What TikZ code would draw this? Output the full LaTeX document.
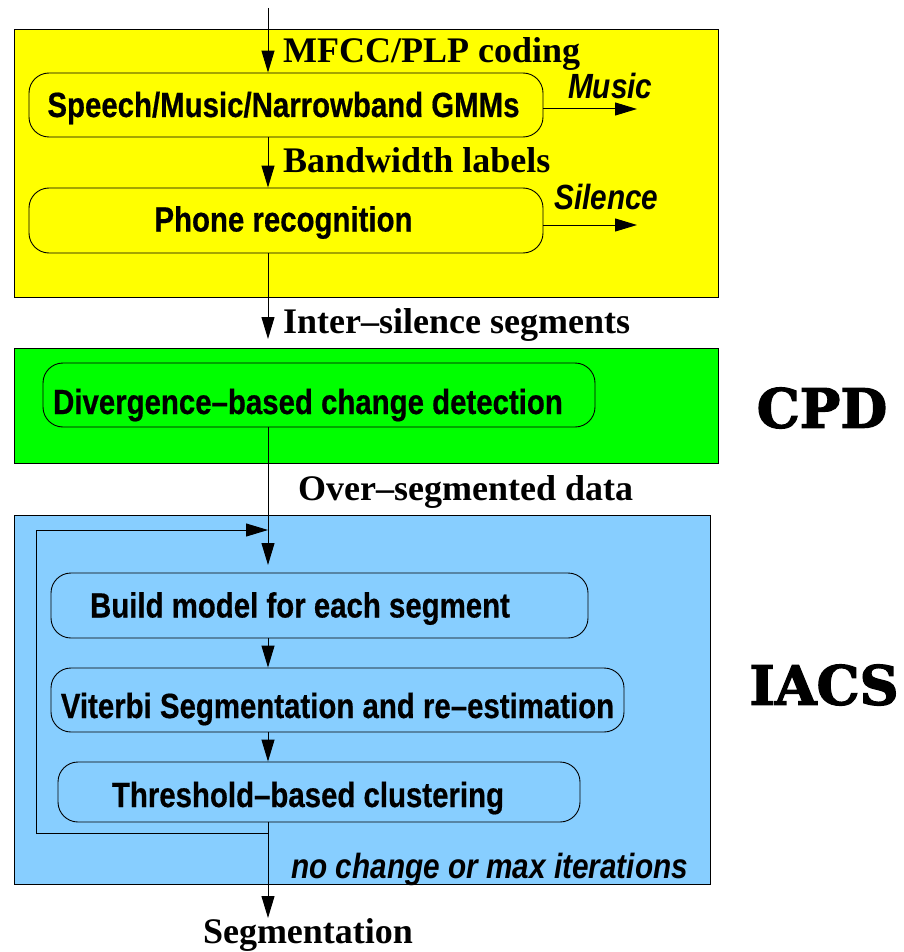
\documentclass[tikz,border=0pt]{standalone}
\usepackage{fontspec}
\setmainfont{Liberation Serif}
\newfontfamily\boxfont[FakeStretch=0.84, Ligatures=TeX, BoldFeatures={FakeBold=0.5}]{Liberation Sans}
\newfontfamily\tagfont[FakeStretch=0.85, BoldFeatures={FakeBold=0.4}]{Liberation Sans}
\newfontfamily\bigserif[BoldFeatures={FakeBold=2.5}]{DejaVu Serif}
\usetikzlibrary{arrows.meta}
\definecolor{stageyellow}{RGB}{255,255,0}
\definecolor{stagegreen}{RGB}{0,255,0}
\definecolor{stageblue}{RGB}{135,206,255}
\tikzset{
  stage/.style={draw=black, line width=1pt, inner sep=0pt},
  proc/.style={draw=black, line width=0.9pt, rounded corners=20pt, inner sep=0pt,
    text height=0pt, text depth=0pt,
    font=\fontsize{35}{35}\selectfont\boxfont\bfseries},
  flow/.style={line width=1pt, -{Triangle[length=22pt 0 0,width=13pt 0 0]}},
  lab/.style={inner sep=0pt, font=\fontsize{36}{36}\selectfont\bfseries},
  tag/.style={inner sep=0pt, font=\fontsize{35}{35}\selectfont\tagfont\bfseries\itshape},
  big/.style={inner sep=0pt, font=\fontsize{54}{54}\selectfont\bigserif\bfseries}
}
% block caption: baseline lowered by #1 below the block centre
\newcommand{\blockcap}[2]{\raisebox{-#1pt}{#2}}
\begin{document}
\begin{tikzpicture}[x=1pt,y=-1pt]
\useasboundingbox (0,0) rectangle (903,952);
% stage backgrounds
\node[stage, fill=stageyellow, minimum width=704pt, minimum height=267pt] (front) at (366,163.5) {};
\node[stage, fill=stagegreen, minimum width=704pt, minimum height=115pt] (cpdstage) at (366,405.5) {};
\node[stage, fill=stageblue, minimum width=696pt, minimum height=369pt] (iacsstage) at (362,699.5) {};

% processing blocks
\node[proc, minimum width=514pt, minimum height=64pt] (gmm) at (286,105) {\blockcap{12}{Speech/Music/Narrowband GMMs}\hspace*{5pt}};
\node[proc, minimum width=514pt, minimum height=65pt] (phone) at (286,220.5) {\blockcap{11}{Phone recognition}\hspace*{5pt}};
\node[proc, minimum width=552pt, minimum height=64pt] (div) at (319,395) {\blockcap{19}{Divergence–based change detection}\hspace*{22pt}};
\node[proc, minimum width=537pt, minimum height=65pt] (build) at (319.5,605.5) {\blockcap{12}{Build model for each segment}\hspace*{39pt}};
\node[proc, minimum width=573pt, minimum height=64pt] (vit) at (337.5,700) {\blockcap{18}{Viterbi Segmentation and re–estimation}};
\node[proc, minimum width=522pt, minimum height=60pt] (thr) at (319,792) {\blockcap{15}{Threshold–based clustering}\hspace*{22pt}};

% side titles
\node[big] (cpd) at (822,408) {CPD};
\node[big] (iacs) at (824,685) {IACS};

% labels
\node[lab, anchor=base west] (mfcc) at (283,63) {MFCC/PLP coding};
\node[lab, anchor=base west] (bwl) at (283,172) {Bandwidth labels};
\node[lab, anchor=base west] (inter) at (283,333) {Inter--silence segments};
\node[lab, anchor=base west] (over) at (298,500) {Over--segmented data};
\node[lab, anchor=north] (segm) at (308,918) {Segmentation};
\node[tag, anchor=base west] (music) at (568,99) {Music};
\node[tag, anchor=base west] (silence) at (554,209) {Silence};
\node[tag, anchor=base west] (stop) at (291,878) {no change or max iterations};

% connector end points
\coordinate (spine) at (268,8);
\coordinate (musicend) at (637,109);
\coordinate (silenceend) at (637,225);
\coordinate (interend) at (268,339);
\coordinate (buildin) at (268,565);
\coordinate (jt) at (268,530);
\coordinate (jb) at (268,833);
\coordinate (lt) at (36,530);
\coordinate (lb) at (36,833);

% flow
\draw[flow] (spine) -- (gmm.north -| spine);
\draw[flow] (gmm.south -| spine) -- (phone.north -| spine);
\draw[flow] (gmm.east |- musicend) -- (musicend);
\draw[flow] (phone.east |- silenceend) -- (silenceend);
\draw[flow] (phone.south -| spine) -- (interend);
\draw[flow] (div.south -| spine) -- (buildin);
\draw[flow] (build.south -| spine) -- (vit.north -| spine);
\draw[flow] (vit.south -| spine) -- (thr.north -| spine);
\draw[flow] (thr.south -| spine) -- (segm.north -| spine);
\draw[flow] (jb) -- (lb) -- (lt) -- (jt);
\end{tikzpicture}
\end{document}
